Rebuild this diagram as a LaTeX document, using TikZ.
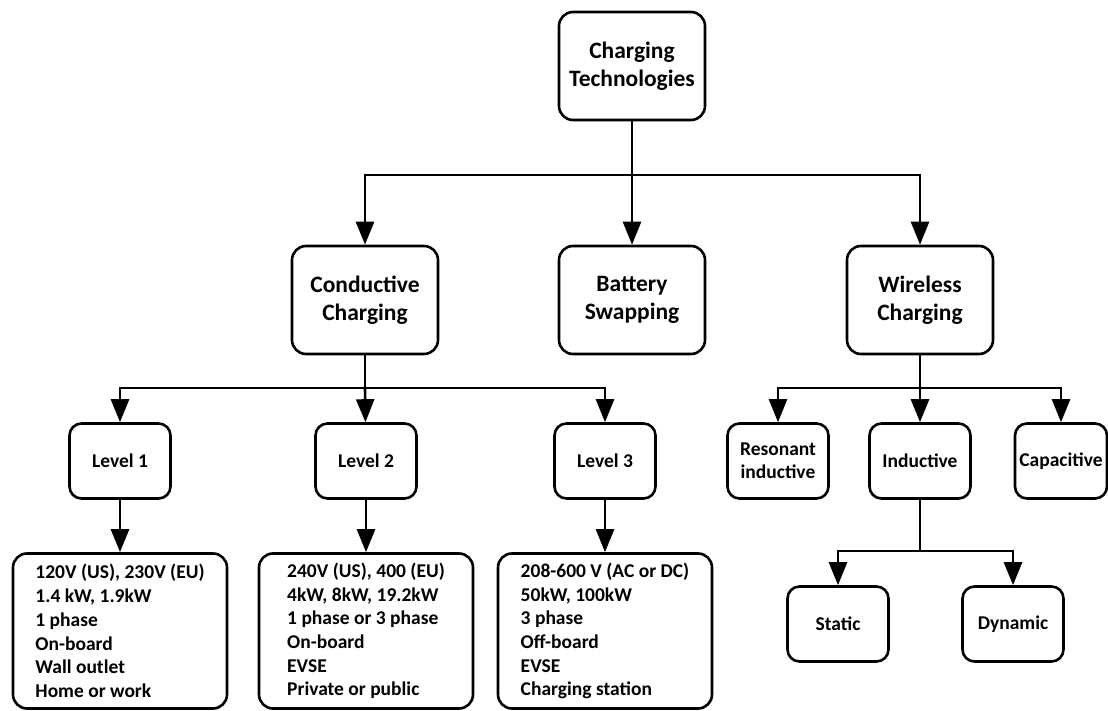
\documentclass[tikz,border=0pt]{standalone}
\usepackage{fontspec}
\setmainfont{Carlito}
\usetikzlibrary{arrows.meta}

\begin{document}
\begin{tikzpicture}[x=1pt, y=-1pt, line width=2.6pt,
        bigbox/.style={draw, rounded corners=14pt, align=center, inner sep=0pt,
            minimum width=146pt, minimum height=108pt, font=\bfseries\fontsize{23.5}{28}\selectfont},
        smallbox/.style={draw, rounded corners=12pt, align=center, inner sep=0pt,
            minimum width=101pt, minimum height=75pt, font=\bfseries\fontsize{19.5}{23}\selectfont},
        infobox/.style={draw, rounded corners=14pt, align=left, inner sep=0pt,
            minimum width=214pt, minimum height=155pt, font=\bfseries\fontsize{19.5}{23.7}\selectfont},
        arr/.style={-{Triangle[length=23pt,width=18pt]}}]
        \useasboundingbox (0,0) rectangle (1108,711);

        \node (tech) [bigbox] at (632,66) {Charging\\Technologies};
        \node (conductive) [bigbox] at (365,300) {Conductive\\Charging};
        \node (swap) [bigbox] at (632,300) {Battery\\Swapping};
        \node (wireless) [bigbox] at (920,300) {Wireless\\Charging};

        \node (lvl1) [smallbox] at (120,461) {Level 1};
        \node (lvl2) [smallbox] at (366,461) {Level 2};
        \node (lvl3) [smallbox] at (605,461) {Level 3};

        \node (info1) [infobox] at (120,631) {120V (US), 230V (EU)\\1.4 kW, 1.9kW\\1 phase\\On-board\\Wall outlet\\Home or work};
        \node (info2) [infobox] at (366,631) {240V (US), 400 (EU)\\4kW, 8kW, 19.2kW\\1 phase or 3 phase\\On-board\\EVSE\\Private or public};
        \node (info3) [infobox] at (605,631) {208-600 V (AC or DC)\\50kW, 100kW\\3 phase\\Off-board\\EVSE\\Charging station};

        \node (resonant) [smallbox] at (778,461) {Resonant\\inductive};
        \node (inductive) [smallbox] at (920,461) {Inductive};
        \node (capacitive) [smallbox, minimum width=92pt] at (1061,461) {Capacitive};
        \node (static) [smallbox] at (838,624) {Static};
        \node (dynamic) [smallbox] at (1013,624) {Dynamic};

        % branch points
        \coordinate (techsplit) at (632,175);
        \coordinate (condsplit) at (365,388);
        \coordinate (wlsplit) at (920,388);
        \coordinate (indsplit) at (920,551);

        \draw (tech) -- (techsplit);
        \draw[arr] (techsplit) -| (conductive);
        \draw[arr] (techsplit) -- (swap);
        \draw[arr] (techsplit) -| (wireless);

        \draw (conductive) -- (condsplit);
        \draw[arr] (condsplit) -| (lvl1);
        \draw[arr] (condsplit) -- (lvl2);
        \draw[arr] (condsplit) -| (lvl3);

        \draw[arr] (lvl1) -- (info1);
        \draw[arr] (lvl2) -- (info2);
        \draw[arr] (lvl3) -- (info3);

        \draw (wireless) -- (wlsplit);
        \draw[arr] (wlsplit) -| (resonant);
        \draw[arr] (wlsplit) -- (inductive);
        \draw[arr] (wlsplit) -| (capacitive);

        \draw (inductive) -- (indsplit);
        \draw[arr] (indsplit) -| (static);
        \draw[arr] (indsplit) -| (dynamic);
    \end{tikzpicture}
\end{document}
